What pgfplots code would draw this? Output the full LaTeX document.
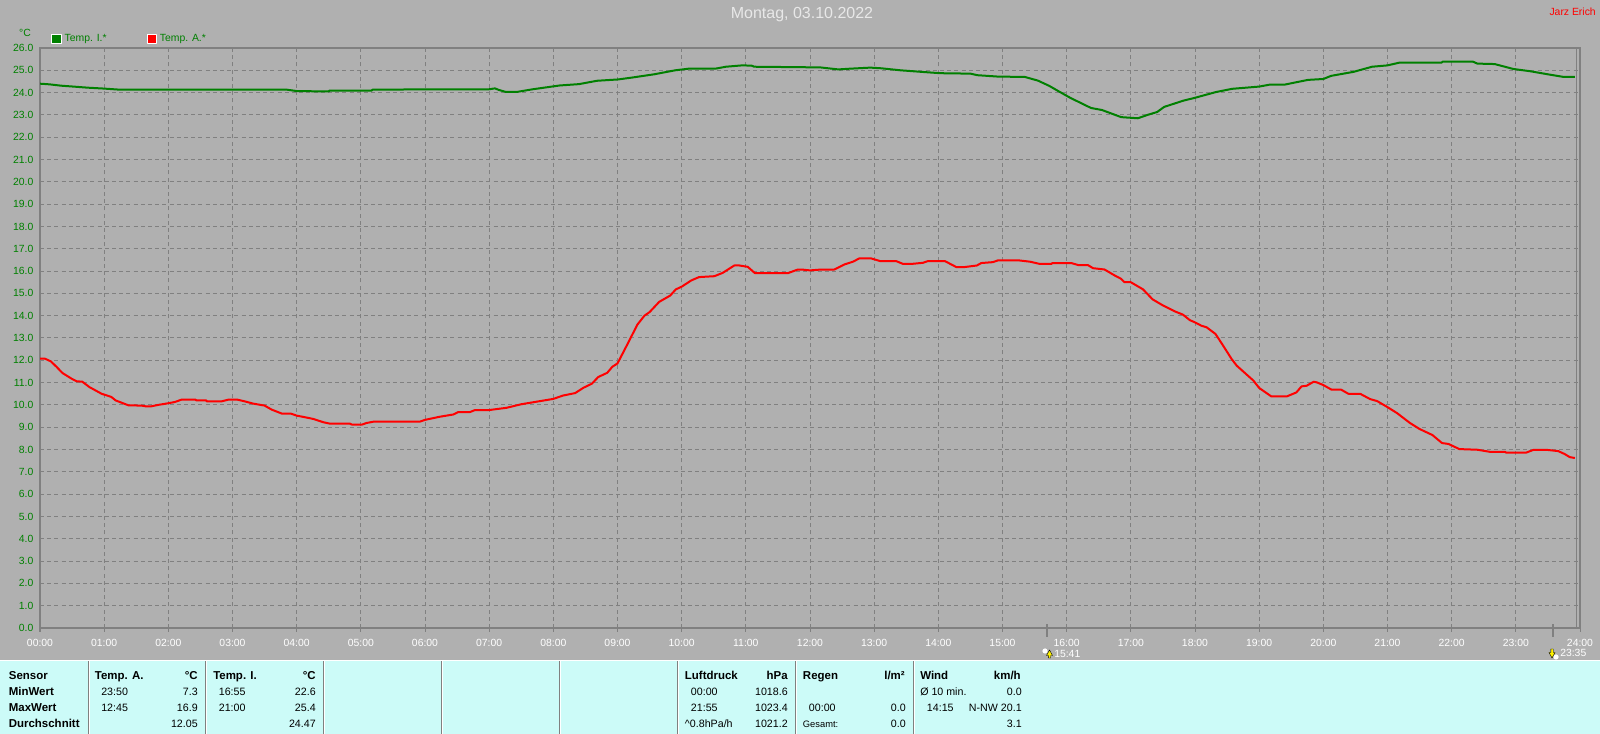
\documentclass[border=0pt]{standalone}
\usepackage{fontspec}
\setmainfont{Liberation Sans}
\usepackage{pgfplots}
\pgfplotsset{compat=1.18}

\definecolor{bggray}{HTML}{B0B0B0}
\definecolor{panel}{HTML}{CCFBF8}
\definecolor{axgray}{HTML}{808080}
\definecolor{tempi}{HTML}{008000}
\definecolor{tempa}{HTML}{FF0000}

% text at pixel position of the reference (y counted from the top, row centre)
\newcommand{\T}[4][8pt]{\node[anchor=#2,inner sep=0pt,font=\fontsize{#1}{#1}\selectfont] at #3 {#4};}
\newcommand{\rowL}[3]{\node[anchor=base west,inner sep=0pt,font=\fontsize{8pt}{8pt}\selectfont,text=black] at ({#1},{734-#2-4}) {#3};}
\newcommand{\rowR}[3]{\node[anchor=base east,inner sep=0pt,font=\fontsize{8pt}{8pt}\selectfont,text=black] at ({#1},{734-#2-4}) {#3};}
\newcommand{\headL}[3]{\node[anchor=base west,inner sep=0pt,font=\fontsize{8.6pt}{8.6pt}\selectfont\bfseries,text=black] at ({#1},{734-#2-4}) {#3};}
\newcommand{\headR}[3]{\node[anchor=base east,inner sep=0pt,font=\fontsize{8.6pt}{8.6pt}\selectfont\bfseries,text=black] at ({#1},{734-#2-4}) {#3};}

\begin{document}
\begin{tikzpicture}[x=0.75pt,y=0.75pt]
\useasboundingbox (0,0) rectangle (1600,734);
\fill[bggray] (0,0) rectangle (1600,734);

% statistics panel
\fill[panel] (0,0) rectangle (1600,73);
\draw[white,line width=0.75pt] (0,73) -- (1600,73);
\foreach \sx in {88,205.5,323,441.5,559,677.5,795,913} {
  \draw[axgray,line width=0.75pt] (\sx,0) -- (\sx,73);
  \draw[white,line width=0.75pt] (\sx+1,0) -- (\sx+1,73);
}

\begin{axis}[
    at={(30pt,79.5pt)},
    anchor=south west,
    scale only axis,
    width=1155pt,
    height=435pt,
    xmin=0, xmax=24,
    ymin=0, ymax=26,
    xtick={0,1,...,24},
    xticklabels={00:00,01:00,02:00,03:00,04:00,05:00,06:00,07:00,08:00,09:00,10:00,11:00,12:00,13:00,14:00,15:00,16:00,17:00,18:00,19:00,20:00,21:00,22:00,23:00,24:00},
    ytick={0,1,...,26},
    yticklabel style={text=tempi,font=\fontsize{7.8pt}{7.8pt}\selectfont,
        /pgf/number format/fixed,/pgf/number format/fixed zerofill,
        /pgf/number format/precision=1,/pgf/number format/assume math mode=true},
    xticklabel style={text=white,font=\fontsize{7.8pt}{7.8pt}\selectfont},
    xtick pos=bottom,
    ytick pos=left,
    tick align=outside,
    major tick length=3pt,
    xtick style={axgray,line width=0.75pt},
    ytick style={draw=none},
    yticklabel shift=-1.5pt,
    xticklabel shift=2pt,
    grid=major,
    major grid style={axgray,line width=0.75pt,dash pattern=on 3pt off 2.4pt},
    axis line style={axgray,line width=2pt},
    legend columns=2,
    legend style={at={(0.0072,1.0155)},anchor=west,draw=none,fill=none,
        font=\fontsize{7.8pt}{7.8pt}\selectfont,text=tempi,inner sep=0pt,
        /tikz/every even column/.append style={column sep=28pt}},
    legend cell align=left,
]
\addplot[tempi,line width=1.5pt,line join=round,
    legend image code/.code={\draw[white,line width=0.75pt,fill=tempi] (0pt,-3.6pt) rectangle (7.2pt,3.6pt);}]
  table[row sep=\\] {
0 24.40\\ 0.15 24.37\\ 0.33 24.31\\ 0.52 24.27\\ 0.75 24.22\\ 1.00 24.18\\ 1.25 24.13\\ 3.85 24.13\\
4.00 24.07\\ 4.50 24.05\\ 4.51 24.09\\ 5.17 24.09\\ 5.18 24.13\\ 6.23 24.15\\ 7.00 24.15\\ 7.09 24.19\\
7.15 24.12\\ 7.26 24.03\\ 7.43 24.03\\ 7.68 24.15\\ 8.10 24.32\\ 8.40 24.38\\ 8.68 24.53\\ 9.01 24.59\\
9.24 24.68\\ 9.57 24.82\\ 9.90 25.00\\ 10.10 25.07\\ 10.52 25.07\\ 10.69 25.16\\ 10.94 25.22\\ 11.09 25.21\\
11.13 25.16\\ 12.16 25.13\\ 12.44 25.04\\ 12.61 25.07\\ 12.94 25.12\\ 13.11 25.09\\ 13.41 25.00\\ 13.69 24.94\\
14.03 24.87\\ 14.50 24.85\\ 14.61 24.78\\ 14.92 24.72\\ 15.35 24.70\\ 15.55 24.54\\ 15.73 24.30\\ 15.85 24.10\\
16.06 23.76\\ 16.38 23.31\\ 16.55 23.22\\ 16.85 22.90\\ 17.11 22.85\\ 17.26 23.00\\ 17.41 23.13\\ 17.52 23.36\\
17.82 23.64\\ 17.99 23.76\\ 18.32 24.02\\ 18.58 24.17\\ 19.00 24.27\\ 19.17 24.36\\ 19.40 24.36\\ 19.76 24.57\\
20.00 24.61\\ 20.12 24.75\\ 20.47 24.93\\ 20.76 25.16\\ 21.00 25.22\\ 21.18 25.34\\ 21.84 25.34\\ 21.86 25.39\\
22.33 25.39\\ 22.40 25.30\\ 22.67 25.28\\ 22.96 25.06\\ 23.22 24.96\\ 23.52 24.81\\ 23.75 24.70\\ 23.92 24.70\\
};
\addlegendentry{Temp. I.*}
\addplot[tempa,line width=1.5pt,line join=round,
    legend image code/.code={\draw[white,line width=0.75pt,fill=tempa] (0pt,-3.6pt) rectangle (7.2pt,3.6pt);}]
  table[row sep=\\] {
0 12.07\\ 0.08 12.07\\ 0.17 11.95\\ 0.26 11.70\\ 0.35 11.43\\ 0.49 11.18\\ 0.57 11.06\\ 0.66 11.04\\
0.77 10.80\\ 0.96 10.50\\ 1.11 10.36\\ 1.18 10.20\\ 1.38 9.98\\ 1.58 9.97\\ 1.64 9.94\\ 1.74 9.94\\
1.84 10.00\\ 1.97 10.06\\ 2.10 10.13\\ 2.21 10.24\\ 2.42 10.24\\ 2.44 10.20\\ 2.59 10.20\\ 2.60 10.16\\
2.83 10.16\\ 2.94 10.24\\ 3.07 10.24\\ 3.19 10.16\\ 3.32 10.06\\ 3.50 9.97\\ 3.61 9.79\\ 3.77 9.61\\
3.91 9.61\\ 4.00 9.52\\ 4.16 9.43\\ 4.26 9.37\\ 4.42 9.22\\ 4.52 9.16\\ 4.83 9.16\\ 4.86 9.12\\
5.02 9.12\\ 5.09 9.19\\ 5.20 9.25\\ 5.92 9.25\\ 6.00 9.33\\ 6.23 9.47\\ 6.44 9.57\\ 6.52 9.68\\
6.70 9.68\\ 6.78 9.77\\ 7.00 9.77\\ 7.27 9.87\\ 7.50 10.03\\ 8.00 10.27\\ 8.15 10.42\\ 8.34 10.53\\
8.47 10.77\\ 8.60 10.95\\ 8.70 11.25\\ 8.84 11.44\\ 8.92 11.71\\ 9.00 11.86\\ 9.16 12.75\\ 9.31 13.60\\
9.42 14.00\\ 9.50 14.16\\ 9.65 14.62\\ 9.82 14.90\\ 9.91 15.18\\ 10.00 15.30\\ 10.15 15.58\\ 10.27 15.73\\
10.51 15.77\\ 10.64 15.92\\ 10.82 16.25\\ 10.90 16.25\\ 11.03 16.19\\ 11.14 15.91\\ 11.66 15.91\\ 11.80 16.06\\
11.90 16.06\\ 12.00 16.03\\ 12.18 16.07\\ 12.38 16.07\\ 12.54 16.30\\ 12.67 16.42\\ 12.77 16.57\\ 12.95 16.57\\
13.09 16.45\\ 13.34 16.45\\ 13.45 16.32\\ 13.58 16.32\\ 13.76 16.37\\ 13.84 16.45\\ 14.10 16.45\\ 14.28 16.18\\
14.41 16.18\\ 14.60 16.25\\ 14.67 16.36\\ 14.85 16.40\\ 14.93 16.48\\ 15.25 16.48\\ 15.43 16.42\\ 15.58 16.32\\
15.76 16.32\\ 15.78 16.36\\ 16.07 16.36\\ 16.18 16.27\\ 16.33 16.27\\ 16.41 16.13\\ 16.59 16.07\\ 16.75 15.80\\
16.85 15.65\\ 16.90 15.50\\ 17.00 15.50\\ 17.19 15.18\\ 17.34 14.73\\ 17.50 14.46\\ 17.68 14.20\\ 17.81 14.05\\
17.92 13.80\\ 18.00 13.70\\ 18.10 13.55\\ 18.18 13.48\\ 18.32 13.18\\ 18.44 12.65\\ 18.57 12.06\\ 18.65 11.76\\
18.91 11.09\\ 19.00 10.76\\ 19.19 10.38\\ 19.43 10.38\\ 19.58 10.56\\ 19.66 10.83\\ 19.74 10.86\\ 19.85 11.04\\
19.90 11.01\\ 20.00 10.89\\ 20.13 10.68\\ 20.28 10.68\\ 20.39 10.50\\ 20.58 10.49\\ 20.73 10.26\\ 20.84 10.17\\
21.00 9.90\\ 21.15 9.63\\ 21.35 9.19\\ 21.50 8.92\\ 21.70 8.65\\ 21.85 8.29\\ 21.95 8.25\\ 22.12 8.02\\
22.40 7.99\\ 22.59 7.90\\ 22.83 7.90\\ 22.85 7.86\\ 23.16 7.86\\ 23.27 7.98\\ 23.50 7.98\\ 23.66 7.93\\
23.76 7.80\\ 23.84 7.66\\ 23.92 7.62\\
};
\addlegendentry{Temp. A.*}
\end{axis}

% end of recording line, sunrise / sunset ticks
\draw[axgray,line width=0.75pt] (1576,106) -- (1576,686);
\draw[axgray,line width=1.5pt] (1047,97) -- (1047,110);
\draw[axgray,line width=1.5pt] (1553,97) -- (1553,110);

% header texts
\T[12pt]{center}{(802,719)}{\color[HTML]{E8E8E8}Montag, 03.10.2022}
\T[7.8pt]{east}{(1596,722)}{\color{tempa}Jarz Erich}
\T[7.8pt]{center}{(25,701)}{\color{tempi}°C}

% sun icons
\fill[white] (1045,83) circle (2.6);
\fill[yellow,draw=black,line width=0.3pt] (1049.5,84) -- (1046.5,78.5) -- (1048.3,78.5) -- (1048.3,76) -- (1050.7,76) -- (1050.7,78.5) -- (1052.5,78.5) -- cycle;
\T[7.8pt]{west}{(1054,80)}{\color{white}15:41}
\fill[white] (1556,77) circle (2.6);
\fill[yellow,draw=black,line width=0.3pt] (1552,76) -- (1549,81.5) -- (1550.8,81.5) -- (1550.8,85) -- (1553.2,85) -- (1553.2,81.5) -- (1555,81.5) -- cycle;
\T[7.8pt]{west}{(1560,81)}{\color{white}23:35}

% statistics table
\headL{8.6}{676}{Sensor}
\headL{8.6}{692}{MinWert}
\headL{8.6}{708}{MaxWert}
\headL{8.6}{724}{Durchschnitt}

\headL{94.6}{676}{Temp. A.}
\headR{198}{676}{°C}
\rowL{101}{692}{23:50} \rowR{198}{692}{7.3}
\rowL{101}{708}{12:45} \rowR{198}{708}{16.9}
\rowR{198}{724}{12.05}

\headL{213}{676}{Temp. I.}
\headR{316}{676}{°C}
\rowL{218.6}{692}{16:55} \rowR{316}{692}{22.6}
\rowL{218.6}{708}{21:00} \rowR{316}{708}{25.4}
\rowR{316}{724}{24.47}

\headL{684.7}{676}{Luftdruck}
\headR{788}{676}{hPa}
\rowL{690.7}{692}{00:00} \rowR{788}{692}{1018.6}
\rowL{690.7}{708}{21:55} \rowR{788}{708}{1023.4}
\rowL{684.7}{724}{\textasciicircum 0.8hPa/h} \rowR{788}{724}{1021.2}

\headL{802.7}{676}{Regen}
\headR{905}{676}{l/m²}
\rowL{808.7}{708}{00:00} \rowR{906}{708}{0.0}
\node[anchor=base west,inner sep=0pt,font=\fontsize{7pt}{7pt}\selectfont] at (802.7,6) {Gesamt:};
\rowR{906}{724}{0.0}

\headL{920}{676}{Wind}
\headR{1021}{676}{km/h}
\rowL{920}{692}{Ø 10 min.} \rowR{1022}{692}{0.0}
\rowL{926.7}{708}{14:15} \rowR{1022}{708}{N-NW 20.1}
\rowR{1022}{724}{3.1}
\end{tikzpicture}
\end{document}
